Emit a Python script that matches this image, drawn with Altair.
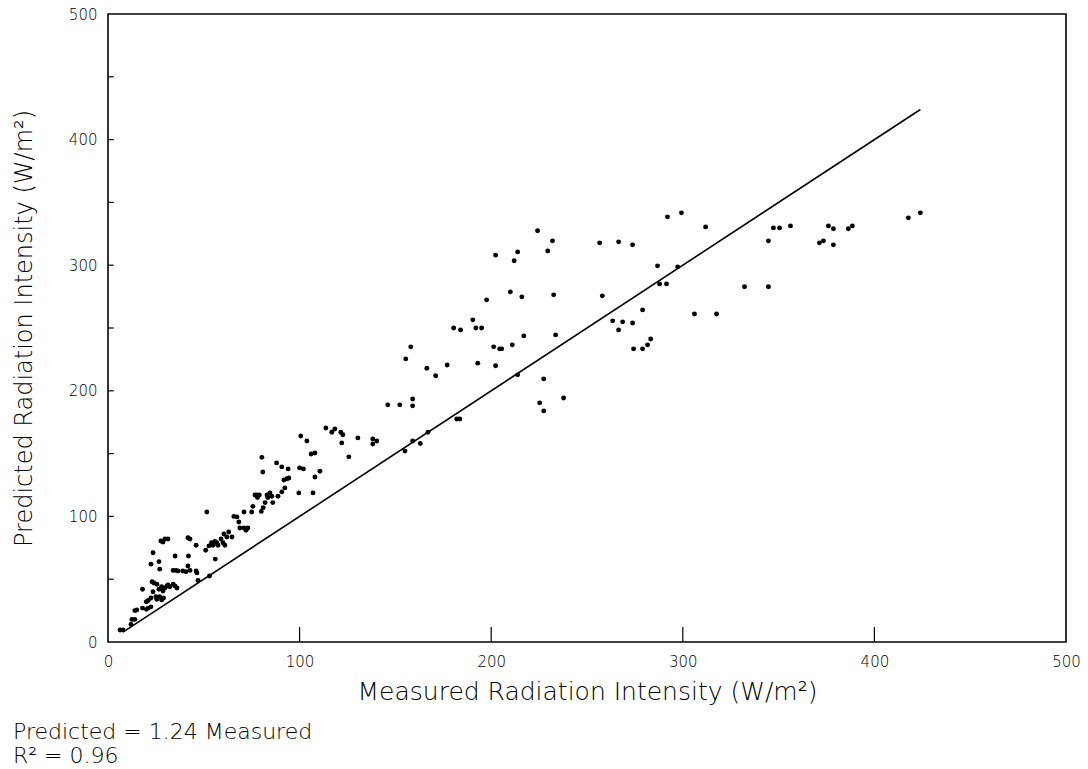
import altair as alt
import pandas as pd

# Measured vs predicted radiation intensity (W/m²)
measured = [6.3, 7.8, 12, 12.5, 14, 14, 15, 18, 20, 21, 22.4, 18, 20, 21, 22.4, 23, 24, 25.5,
            23.5, 25, 25.5, 27, 28, 29, 26.6, 28, 28.7, 29.7, 30.8, 31.3, 32.3, 34, 35, 36,
            22.4, 26.6, 23.5, 27, 27.6, 28.7, 29.7, 31.3, 35, 34, 35.5, 36.5, 39, 40.7, 41.7,
            42.8, 46, 46.4, 41.7, 42.8, 46, 42, 47, 51.6, 51, 56, 53, 52.7, 54, 54.8, 55.8,
            56.8, 57.4, 59, 60, 61, 60.5, 62, 63, 64.7, 65.7, 67.3, 68.3, 68.8, 71, 72, 73,
            71, 75, 75.6, 76.7, 77.7, 78, 79, 80, 81, 82, 83, 83.4, 84.5, 85.5, 86, 88.7,
            90.7, 92.3, 91.8, 93.4, 94.4, 80.3, 80.8, 88, 90.7, 94, 99.6, 100, 102, 100.6,
            103.8, 106, 108, 107, 108, 110.6, 113.7, 116.8, 118.4, 121.5, 122.6, 122, 125.7,
            130.4, 138.2, 140.3, 138.2, 146, 152.3, 159, 159, 155.4, 158, 155, 159, 163, 167,
            166.4, 171, 177, 180.4, 184, 182, 183.6, 190.4, 192, 195, 193, 197.6, 201.3,
            204.4, 205.5, 202.3, 202.3, 210, 216, 211, 217, 212, 213.8, 213.8, 224.2, 229.5,
            232, 232.6, 233.6, 225.3, 227.4, 227.4, 237.8, 256.6, 258, 266.5, 273.8, 292,
            299.3, 311.9, 286.8, 287.9, 291.5, 297.3, 279, 263.4, 268.6, 273.8, 266.5, 274.3,
            279, 281.6, 283.2, 306.1, 317.6, 332.2, 344.7, 344.7, 347.3, 350.5, 356.2, 371.3,
            373.4, 376, 378.6, 378.6, 386.4, 388.5, 417.7, 424]
predicted = [9.6, 9.6, 14, 18, 18, 25, 25.5, 27, 26, 27, 28, 42, 32, 33, 35, 48, 47, 46,
             40, 36, 34, 36, 33.5, 35, 42, 44, 40.6, 43, 44.6, 45.4, 44, 46, 44.6, 43,
             62, 64, 71, 58, 80.4, 79.6, 82, 82, 68.5, 57, 57, 56.5, 56.5, 56, 60.5,
             57, 56.5, 55, 83, 82, 77, 68.5, 49, 103.5, 73, 66, 52.6, 76.5, 79, 77, 80,
             79, 77, 82, 79, 77, 86, 83.6, 87.6, 83.6, 100, 99.6, 95.6, 90.8, 90.8, 89, 90.8,
             103.5, 103.5, 108, 117, 117, 115, 117, 104, 107, 111, 117, 115, 118.7, 116, 111, 116,
             119.5, 122.7, 129, 130, 130.6, 147, 135.4, 142.6, 139.4, 137.8, 118.7, 138.6, 137.8, 164,
             160, 149.7, 150.5, 118.7, 131.4, 136, 170.4, 167, 169.6, 167, 165, 158.5, 147.4,
             162.5, 161.7, 160, 157.7, 188.8, 188.8, 193.5, 188, 225.4, 235, 152, 160, 158, 167,
             218, 212, 220.6, 250, 248.5, 177.6, 177.6, 256.5, 250, 250, 222, 272.4, 235,
             233.4, 233.4, 308, 220, 278.8, 274.8, 236.6, 243.7, 303.5, 310.6, 212.7, 327.4, 311.4,
             319.4, 276.4, 244.5, 190.4, 184, 209.5, 194.3, 317.8, 275.6, 318.6, 316.2, 338.5,
             341.7, 330.5, 299.5, 285.1, 285.1, 298.7, 264.4, 255.7, 254.9, 254, 248.5, 233.4,
             233.4, 236.6, 241.3, 261.2, 261.2, 282.8, 282.8, 319.4, 329.7, 329.7, 331.3, 317.8,
             319.4, 331.3, 329, 316.2, 329, 331.3, 337.7, 341.7]

line_x = [8, 424]
line_y = [8, 424]
axis_values = [0, 100, 200, 300, 400, 500]
x_tick_values = [100, 200, 300, 400]
y_tick_values = [50, 100, 150, 200, 250, 300, 350, 400, 450]
note_line1 = "Predicted = 1.24 Measured"
note_line2 = "R² = 0.96"

FONT = "DejaVu Sans"

pts = pd.DataFrame({"m": measured, "p": predicted})
ln = pd.DataFrame({"m": line_x, "p": line_y})
xt = pd.DataFrame({"m": x_tick_values, "p": [0] * len(x_tick_values), "p2": [12] * len(x_tick_values)})
yt = pd.DataFrame({"p": y_tick_values, "m": [0] * len(y_tick_values), "m2": [3] * len(y_tick_values)})

xs = alt.Scale(domain=[0, 500], nice=False, zero=False)
ys = alt.Scale(domain=[0, 500], nice=False, zero=False)

X_TITLE = "Measured Radiation Intensity (W/m²)"
Y_TITLE = "Predicted Radiation Intensity (W/m²)"

x_axis = alt.Axis(values=axis_values, title=X_TITLE, ticks=False,
                  domain=False, grid=False, labelPadding=12, titlePadding=10,
                  labelFontSize=15, titleFontSize=25, labelFont=FONT, titleFont=FONT,
                  labelFontWeight=300, titleFontWeight=300, labelColor="black", titleColor="black",
                  labelFlush=False)
y_axis = alt.Axis(values=axis_values, title=Y_TITLE, ticks=False,
                  domain=False, grid=False, labelPadding=11, titlePadding=32,
                  labelFontSize=15, titleFontSize=24, labelFont=FONT, titleFont=FONT,
                  labelFontWeight=300, titleFontWeight=300, labelColor="black", titleColor="black",
                  labelFlush=False)


def X(field):
    return alt.X(field, scale=xs, axis=x_axis, title=X_TITLE)


def Y(field):
    return alt.Y(field, scale=ys, axis=y_axis, title=Y_TITLE)


points = alt.Chart(pts).mark_circle(size=24, color="black", opacity=1).encode(
    x=X("m:Q"), y=Y("p:Q"),
)

line = alt.Chart(ln).mark_line(color="black", strokeWidth=1.6).encode(
    x=X("m:Q"), y=Y("p:Q"),
)

xticks = alt.Chart(xt).mark_rule(color="black", strokeWidth=1.2).encode(
    x=X("m:Q"), y=Y("p:Q"), y2="p2:Q",
)

yticks = alt.Chart(yt).mark_rule(color="black", strokeWidth=1.2).encode(
    y=Y("p:Q"), x=X("m:Q"), x2="m2:Q",
)

note1 = alt.Chart(pd.DataFrame({"t": [note_line1]})).mark_text(
    align="left", baseline="middle", fontSize=22, font=FONT, fontWeight=300, color="black"
).encode(text="t:N", x=alt.value(-95), y=alt.value(718))

note2 = alt.Chart(pd.DataFrame({"t": [note_line2]})).mark_text(
    align="left", baseline="middle", fontSize=22, font=FONT, fontWeight=300, color="black"
).encode(text="t:N", x=alt.value(-95), y=alt.value(742))

chart = alt.layer(points, line, xticks, yticks, note1, note2).properties(
    width=958, height=628,
    autosize=alt.AutoSizeParams(type="none"),
    padding={"left": 108, "top": 14, "right": 20, "bottom": 127},
    background="white",
).configure_view(stroke="black", strokeWidth=1.6)

chart.save("out.html", embed_options={"renderer": "svg", "actions": False})
